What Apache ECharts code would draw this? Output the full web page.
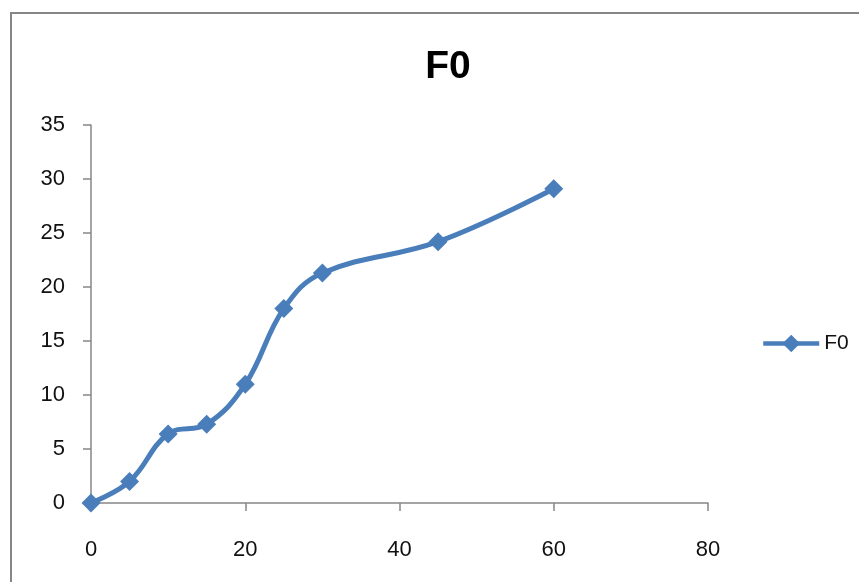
<!DOCTYPE html>
<html>
<head>
<meta charset="utf-8">
<script src="https://cdn.jsdelivr.net/npm/echarts@6/dist/echarts.min.js"></script>
<style>
html,body{margin:0;padding:0;background:#fff;}
#c{width:859px;height:582px;}
</style>
</head>
<body>
<div id="c"></div>
<script>
const title = "F0";
const seriesName = "F0";
const xValues = [0, 5, 10, 15, 20, 25, 30, 45, 60];
const yValues = [0, 2.0, 6.4, 7.3, 11.0, 18.0, 21.3, 24.2, 29.1];
const xTicks = [0, 20, 40, 60, 80];
const yTicks = [0, 5, 10, 15, 20, 25, 30, 35];

const font = "'Liberation Sans', 'DejaVu Sans', sans-serif";
const chart = echarts.init(document.getElementById('c'), null, {renderer: 'canvas'});
chart.setOption({
  animation: false,
  backgroundColor: '#ffffff',
  title: {
    text: title,
    left: 443, top: 43, textAlign: 'center',
    textStyle: {fontFamily: font, fontWeight: 'bold', fontSize: 39, color: '#000'}
  },
  graphic: [{
    type: 'rect', silent: true, z: -1,
    shape: {x: 11, y: 13, width: 900, height: 650},
    style: {fill: 'none', stroke: '#868686', lineWidth: 2}
  }],
  legend: {
    left: 756, top: 328,
    itemWidth: 56, itemHeight: 22, itemGap: 4,
    lineStyle: {width: 4.5, color: '#4a7ebb'},
    textStyle: {fontFamily: font, fontSize: 21, color: '#111'},
    data: [seriesName]
  },
  grid: {left: 91, right: 151, top: 125, bottom: 79, containLabel: false},
  xAxis: {
    type: 'value', min: xTicks[0], max: xTicks[xTicks.length - 1], interval: 20,
    axisLine: {show: true, onZero: false, lineStyle: {color: '#868686', width: 1.5}},
    axisTick: {show: true, length: 8, lineStyle: {color: '#868686', width: 1.5}},
    axisLabel: {margin: 36, fontFamily: font, fontSize: 22, color: '#111'},
    splitLine: {show: false}
  },
  yAxis: {
    type: 'value', min: yTicks[0], max: yTicks[yTicks.length - 1], interval: 5,
    axisLine: {show: true, onZero: false, lineStyle: {color: '#868686', width: 1.5}},
    axisTick: {show: true, length: 8, lineStyle: {color: '#868686', width: 1.5}},
    axisLabel: {margin: 26, fontFamily: font, fontSize: 22, color: '#111'},
    splitLine: {show: false}
  },
  series: [{
    name: seriesName,
    type: 'line',
    data: xValues.map((x, i) => [x, yValues[i]]),
    smooth: 0.4,
    symbol: 'diamond',
    symbolSize: 19,
    showAllSymbol: true,
    lineStyle: {color: '#4a7ebb', width: 5},
    itemStyle: {color: '#4a7ebb'},
    clip: false
  }]
});
</script>
</body>
</html>
